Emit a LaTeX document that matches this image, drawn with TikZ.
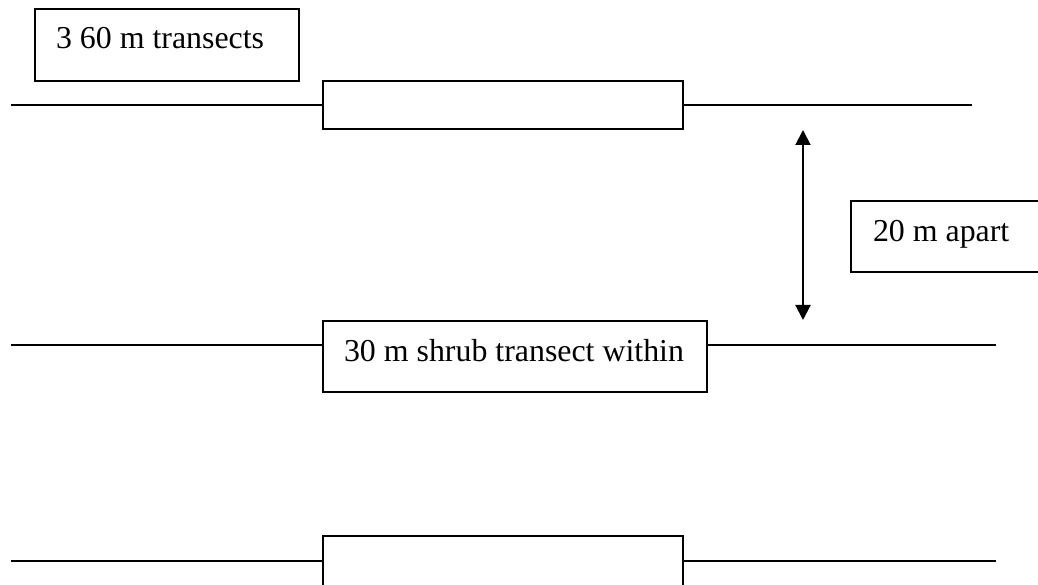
\documentclass[tikz,border=0pt]{standalone}
\usepackage{fontspec}
\setmainfont{Liberation Serif}
\usetikzlibrary{fit,arrows.meta}
\begin{document}
\begin{tikzpicture}[x=0.5bp,y=-0.5bp,line width=1bp,
  box/.style={draw,inner sep=0pt,line width=1bp},
  lbl/.style={anchor=base west,inner sep=0pt,font=\fontsize{16}{19}\selectfont},
  dimarrow/.style={{Triangle[length=7.5bp,width=7.5bp]}-{Triangle[length=7.5bp,width=7.5bp]}}]
\useasboundingbox (0,0) rectangle (1038,585);
% title box
\node[box,fit={(35,9) (299,81)}] (tb) {};
\node[lbl] (tt) at (55,49) {3 60 m transects};
% transect 1
\coordinate (l1a) at (11,105);
\coordinate (l1b) at (972,105);
\node[box,fit={(323,81) (683,129)}] (b1) {};
\draw (l1a) -- (l1a -| b1.west);
\draw (l1b -| b1.east) -- (l1b);
% transect 2
\coordinate (l2a) at (11,345);
\coordinate (l2b) at (996,345);
\node[box,fit={(323,321) (707,392)}] (b2) {};
\node[lbl] (t2) at (343,362) {30 m shrub transect within};
\draw (l2a) -- (l2a -| b2.west);
\draw (l2b -| b2.east) -- (l2b);
% transect 3
\coordinate (l3a) at (11,561);
\coordinate (l3b) at (996,561);
\node[box,fit={(323,536) (683,587)}] (b3) {};
\draw (l3a) -- (l3a -| b3.west);
\draw (l3b -| b3.east) -- (l3b);
% spacing arrow
\coordinate (at) at (803,130);
\coordinate (ab) at (803,320);
\draw[dimarrow] (at) -- (ab);
% spacing label
\node[box,fit={(851,201) (1042,272)}] (sb) {};
\node[lbl] (st) at (872,242) {20 m apart};
\end{tikzpicture}
\end{document}
